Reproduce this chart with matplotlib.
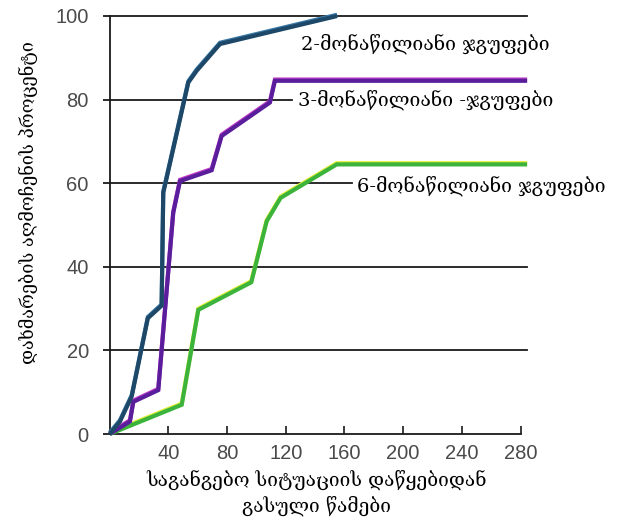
import matplotlib
matplotlib.use("Agg")
import matplotlib.pyplot as plt
import matplotlib.patheffects as pe

# Time since the emergency began (seconds) and cumulative % of helpers
x_two = [0, 7, 15, 26, 35.4, 36.5, 53.6, 59.3, 75.2, 155]
y_two = [0, 3, 9, 27.7, 30.7, 57.7, 84.1, 86.9, 93.3, 100]

x_three = [0, 13.8, 16.1, 33.1, 43.3, 47.9, 69.5, 76.3, 109.2, 112.6, 284.5]
y_three = [0, 3, 7.7, 10.5, 52.9, 60.5, 63.1, 71.3, 79.3, 84.5, 84.5]

x_six = [0, 49.1, 60.4, 96.5, 107, 116.5, 154.7, 284.5]
y_six = [0, 7, 29.7, 36.3, 50.9, 56.5, 64.5, 64.5]

series_labels = ["2-მონაწილიანი ჯგუფები",
                 "3-მონაწილიანი -ჯგუფები",
                 "6-მონაწილიანი ჯგუფები"]
x_ticks = [40, 80, 120, 160, 200, 240, 280]
y_ticks = [0, 20, 40, 60, 80, 100]
x_title = "საგანგებო სიტუაციის დაწყებიდან\nგასული წამები"
y_title = "დახმარების აღმოჩენის პროცენტი"

geo_font = ["DejaVu Serif", "DejaVu Sans"]
num_font = ["Liberation Sans", "DejaVu Sans"]

fig = plt.figure(figsize=(6.3, 5.24), dpi=100)
ax = fig.add_axes([109.7 / 630, 90 / 524, (535.2 - 109.7) / 630, 418 / 524])
ax.set_xlim(0, 290)
ax.set_ylim(0, 100)

# horizontal reference lines (interrupted where the labels sit)
grid_ends = {20: 284.5, 40: 284.5, 60: 165.0, 80: 124.5, 100: 284.5}
for yv, xe in grid_ends.items():
    ax.plot([0, xe], [yv, yv], color="#1a1a1a", lw=1.3, clip_on=False, zorder=1)

def draw(xs, ys, color, edge):
    ax.plot(xs, ys, color=color, lw=3.0, clip_on=False, zorder=3,
            solid_joinstyle="miter", solid_capstyle="butt",
            path_effects=[pe.SimpleLineShadow(offset=(0, 0.9), shadow_color=edge, alpha=1),
                          pe.Normal()])

draw(x_six, y_six, "#3cb43c", "#e4f03a")
draw(x_three, y_three, "#5a1e9c", "#c23cc8")
draw(x_two, y_two, "#1e4868", "#3a7aa8")

for s in ["top", "right"]:
    ax.spines[s].set_visible(False)
ax.spines["left"].set_color("#1a1a1a")
ax.spines["bottom"].set_color("#1a1a1a")
ax.spines["left"].set_linewidth(1.3)
ax.spines["bottom"].set_linewidth(1.3)
ax.spines["bottom"].set_bounds(0, 280)

ax.set_xticks(x_ticks)
ax.set_yticks(y_ticks)
ax.set_xticklabels([str(v) for v in x_ticks], family=num_font, fontsize=14.5, color="#4a4a4a")
ax.set_yticklabels([str(v) for v in y_ticks], family=num_font, fontsize=14.5, color="#4a4a4a")
ax.tick_params(axis="x", direction="in", length=6, width=1.2, color="#1a1a1a", pad=7)
ax.tick_params(axis="y", direction="out", length=5, width=1.3, color="#1a1a1a", pad=10)

ax.text(130.5, 93.3, series_labels[0], family=geo_font, fontsize=14, va="center", ha="left")
ax.text(128.5, 79.9, series_labels[1], family=geo_font, fontsize=14, va="center", ha="left")
ax.text(168.5, 59.3, series_labels[2], family=geo_font, fontsize=14, va="center", ha="left")

fig.text(317 / 630, 1 - 493 / 524, x_title, family=geo_font, fontsize=13.8,
         ha="center", va="center", linespacing=1.3)
fig.text(28 / 630, 1 - 203 / 524, y_title, family=geo_font, fontsize=13,
         ha="center", va="center", rotation=90)

fig.savefig("out.png", dpi=100, facecolor="white")
